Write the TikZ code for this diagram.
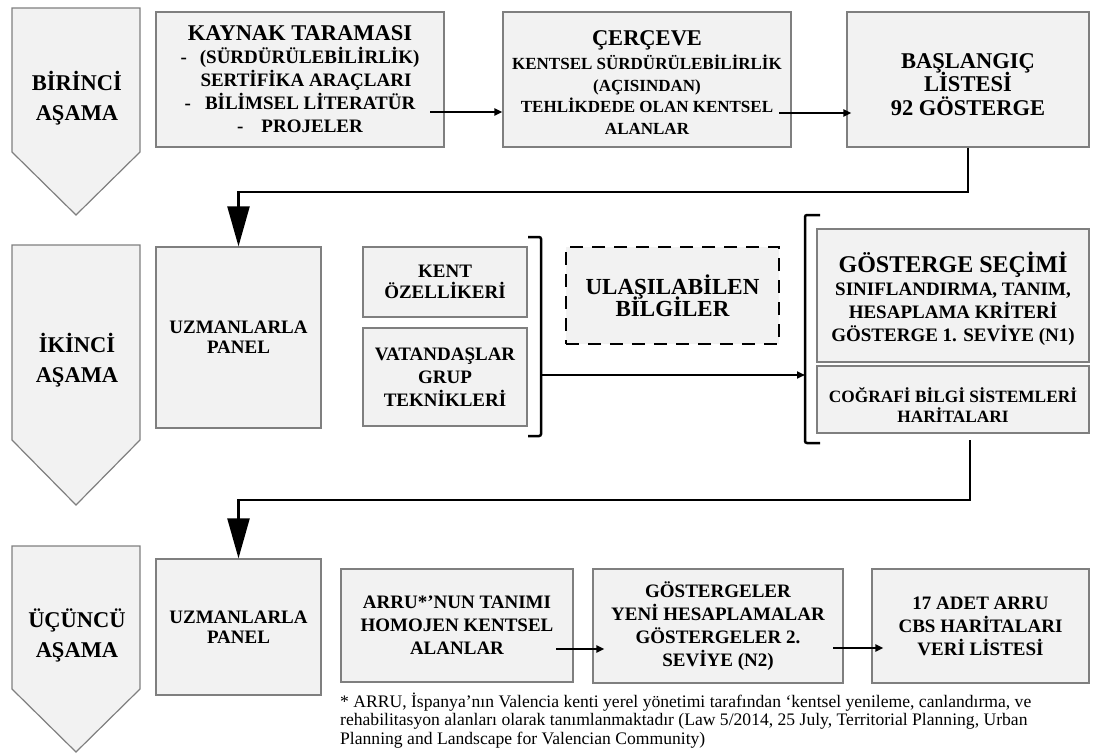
\documentclass[tikz,border=0pt]{standalone}
\usepackage{fontspec}
\setmainfont{Liberation Serif}
\usetikzlibrary{arrows.meta}
\definecolor{boxfill}{HTML}{F2F2F2}
\definecolor{boxline}{HTML}{7F7F7F}
\lineskiplimit=-100pt
% invisible strut that lowers a text block inside its box
\newcommand{\lowerby}[1]{\rule{0pt}{#1}}
\begin{document}
\begin{tikzpicture}[x=1pt,y=-1pt,
  box/.style={draw=boxline,fill=boxfill,line width=1.2pt,inner sep=0pt,
    align=center,font=\fontsize{19}{23}\selectfont\bfseries},
  dashbox/.style={box,draw=black,line width=2.5pt,dash pattern=on 13pt off 9pt},
  stage/.style={draw=boxline,fill=boxfill,line width=1.2pt},
  stagetext/.style={align=center,inner sep=0pt,font=\fontsize{22.5}{30}\selectfont\bfseries},
  small/.style={line width=2pt,-{Triangle[length=8pt,width=7pt]}},
  conn/.style={line width=2.3pt,-{Triangle[length=40pt,width=22pt]}},
  bracket/.style={line width=2.5pt,rounded corners=2pt},
  note/.style={anchor=base west,inner sep=0pt,font=\fontsize{17.6}{18.5}\selectfont}]
\useasboundingbox (0,0) rectangle (1094,754);

% stage arrows on the left
\draw[stage] (12,8) -- (140,8) -- (140,152) -- (76,215) -- (12,152) -- cycle;
\draw[stage] (12,245) -- (140,245) -- (140,440) -- (76,505) -- (12,440) -- cycle;
\draw[stage] (12,546) -- (140,546) -- (140,689) -- (76,752) -- (12,689) -- cycle;
\node[stagetext] (s1) at (77,98) {BİRİNCİ\\AŞAMA};
\node[stagetext] (s2) at (77,360) {İKİNCİ\\AŞAMA};
\node[stagetext] (s3) at (77,635) {ÜÇÜNCÜ\\AŞAMA};

% first stage
\node[box,minimum width=288pt,minimum height=135pt] (kaynak) at (300,79.5)
  {{\fontsize{22.5}{23}\selectfont KAYNAK TARAMASI}\\
   -\hspace{13pt}(SÜRDÜRÜLEBİLİRLİK)\\
   \hspace{12pt}SERTİFİKA ARAÇLARI\\
   -\hspace{14pt}BİLİMSEL LİTERATÜR\\
   -\hspace{18pt}PROJELER};
\node[box,minimum width=288pt,minimum height=135pt,font=\fontsize{17}{21.5}\selectfont\bfseries] (cerceve) at (647,79.5)
  {{\fontsize{22.5}{21}\selectfont\lowerby{21pt}ÇERÇEVE}\\[3pt]
   KENTSEL SÜRDÜRÜLEBİLİRLİK\\
   (AÇISINDAN)\\
   TEHLİKDEDE OLAN KENTSEL\\
   ALANLAR};
\node[box,minimum width=242pt,minimum height=135pt,font=\fontsize{22.5}{23.5}\selectfont\bfseries] (baslangic) at (968,79.5)
  {\lowerby{25pt}BAŞLANGIÇ\\LİSTESİ\\92 GÖSTERGE};

% second stage
\node[box,minimum width=165pt,minimum height=181pt,font=\fontsize{19}{20}\selectfont\bfseries] (panelA) at (238.5,337.5)
  {UZMANLARLA\\PANEL};
\node[box,minimum width=164pt,minimum height=70pt,font=\fontsize{19}{21}\selectfont\bfseries] (kent) at (445,282)
  {KENT\\ÖZELLİKERİ};
\node[box,minimum width=164pt,minimum height=98pt,font=\fontsize{19}{23}\selectfont\bfseries] (vatandas) at (445,377)
  {VATANDAŞLAR\\GRUP\\TEKNİKLERİ};
\node[dashbox,minimum width=213pt,minimum height=97pt,font=\fontsize{23}{22}\selectfont\bfseries] (ulas) at (672.5,295.5)
  {ULAŞILABİLEN\\BİLGİLER};
\node[box,minimum width=272pt,minimum height=133pt] (secim) at (953,295.5)
  {{\fontsize{24}{23}\selectfont\lowerby{28pt}GÖSTERGE SEÇİMİ}\\
   SINIFLANDIRMA, TANIM,\\
   HESAPLAMA KRİTERİ\\
   GÖSTERGE 1. SEVİYE (N1)};
\node[box,minimum width=272pt,minimum height=67pt,font=\fontsize{17.3}{20}\selectfont\bfseries] (cograf) at (953,399.5)
  {\lowerby{25pt}COĞRAFİ BİLGİ SİSTEMLERİ\\HARİTALARI};

% brackets grouping the inputs and the outputs
\draw[bracket] (528,237) -- (541,237) -- (541,436) -- (528,436);
\draw[bracket] (820,215) -- (805,215) -- (805,443) -- (820,443);
\coordinate (brR) at (541,375);
\coordinate (brL) at (805,375);
\draw[small] (brR) -- (brL);

% third stage
\node[box,minimum width=165pt,minimum height=136pt,font=\fontsize{19}{20}\selectfont\bfseries] (panelB) at (238.5,627)
  {UZMANLARLA\\PANEL};
\node[box,minimum width=232pt,minimum height=113pt] (arru) at (457,625.5)
  {ARRU*’NUN TANIMI\\HOMOJEN KENTSEL\\ALANLAR};
\node[box,minimum width=250pt,minimum height=114pt] (yeni) at (718,626)
  {GÖSTERGELER\\YENİ HESAPLAMALAR\\GÖSTERGELER 2.\\SEVİYE (N2)};
\node[box,minimum width=217pt,minimum height=114pt] (adet) at (980.5,626)
  {17 ADET ARRU\\CBS HARİTALARI\\VERİ LİSTESİ};

% horizontal flow arrows
\coordinate (a1) at (430,112);
\draw[small] (a1) -- (cerceve.west |- a1);
\coordinate (a2) at (779,113);
\draw[small] (a2) -- ([xshift=5pt]baslangic.west |- a2);
\coordinate (a3) at (556,649);
\draw[small] (a3) -- ([xshift=12pt]yeni.west |- a3);
\coordinate (a4) at (833,648);
\draw[small] (a4) -- ([xshift=12pt]adet.west |- a4);

% connectors between the stages
\draw[conn] (baslangic.south) -- (baslangic.south |- 0,192) -- (panelA.north |- 0,192) -- (panelA.north);
\coordinate (c3) at (970,440);
\draw[conn] (c3) -- (c3 |- 0,500) -- (panelB.north |- 0,500) -- (panelB.north);

% footnote
\node[note] (fn1) at (340,707) {* ARRU, İspanya’nın Valencia kenti yerel yönetimi tarafından ‘kentsel yenileme, canlandırma, ve};
\node[note] (fn2) at (340,725.5) {rehabilitasyon alanları olarak tanımlanmaktadır (Law 5/2014, 25 July, Territorial Planning, Urban};
\node[note] (fn3) at (340,744) {Planning and Landscape for Valencian Community)};
\end{tikzpicture}
\end{document}
